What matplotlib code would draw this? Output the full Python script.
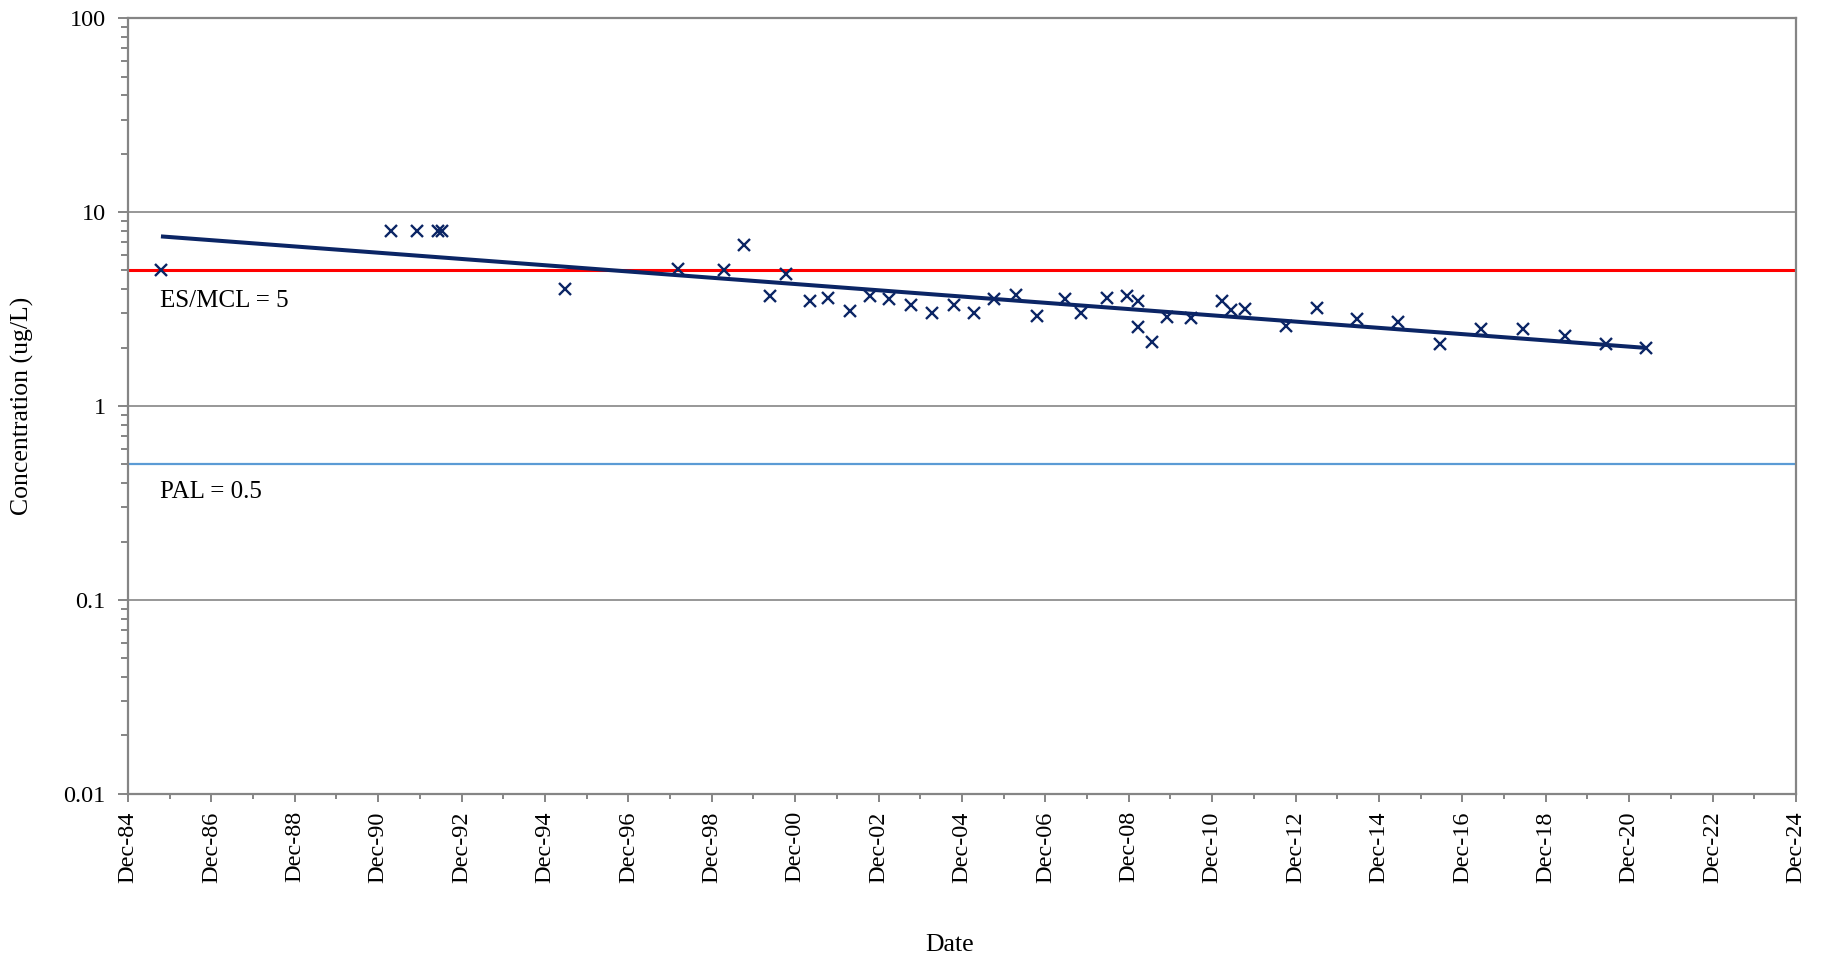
import numpy as np
import pandas as pd
import matplotlib
matplotlib.use("Agg")
import matplotlib.pyplot as plt
import matplotlib.dates as mdates
from matplotlib.ticker import LogLocator, FixedLocator, NullFormatter
import matplotlib.transforms as mtransforms

plt.rcParams['font.family'] = ['Liberation Serif', 'DejaVu Serif']

# ---------------- data ----------------
sample_dates = [
    "1985-09-16", "1991-03-25", "1991-11-06", "1992-05-11", "1992-06-13",
    "1995-05-23", "1998-02-10", "1999-03-17", "1999-09-10", "2000-04-23",
    "2000-09-13", "2001-04-12", "2001-09-17", "2002-03-22", "2002-09-20",
    "2003-03-07", "2003-09-09", "2004-03-14", "2004-09-20", "2005-03-14",
    "2005-09-06", "2006-03-22", "2006-09-20", "2007-05-19", "2007-10-12",
    "2008-05-27", "2008-11-18", "2009-02-21", "2009-02-21", "2009-06-18",
    "2009-11-02", "2010-05-27", "2011-03-01", "2011-05-19", "2011-09-13",
    "2012-09-05", "2013-06-03", "2014-05-19", "2015-05-15", "2016-05-19",
    "2017-05-15", "2018-05-19", "2019-05-15", "2020-05-08", "2021-04-23",
]
concentration = [
    5.0, 8.0, 8.0, 8.0, 8.0,
    4.0, 5.1, 5.0, 6.8, 3.68,
    4.8, 3.5, 3.6, 3.1, 3.68,
    3.55, 3.3, 3.0, 3.3, 3.0,
    3.55, 3.75, 2.92, 3.58, 3.0,
    3.62, 3.68, 3.5, 2.55, 2.14,
    2.88, 2.85, 3.5, 3.14, 3.18,
    2.6, 3.2, 2.8, 2.7, 2.1,
    2.5, 2.5, 2.3, 2.1, 2.0,
]
es_mcl = 5.0
pal = 0.5
es_label = "ES/MCL = 5"
pal_label = "PAL = 0.5"
x_start, x_end = "1984-12-01", "2024-12-01"
y_ticks = [0.01, 0.1, 1, 10, 100]
y_tick_labels = ["0.01", "0.1", "1", "10", "100"]

# ---------------- figure ----------------
dates = pd.to_datetime(sample_dates)
xnum = mdates.date2num(dates)
conc = np.array(concentration)

fig = plt.figure(figsize=(18.28, 9.57), dpi=100)
ax = fig.add_axes([0.0700, 0.1705, 0.9125, 0.8105])

grey = "#858585"
navy = "#0B2565"

ax.set_yscale("log")
ax.set_ylim(0.01, 100)
ax.set_xlim(mdates.date2num(pd.Timestamp(x_start)), mdates.date2num(pd.Timestamp(x_end)))

# grid
ax.yaxis.set_major_locator(FixedLocator(y_ticks))
ax.yaxis.set_minor_locator(LogLocator(base=10, subs=np.arange(2, 10)))
ax.set_yticklabels(y_tick_labels)
ax.yaxis.set_minor_formatter(NullFormatter())
ax.grid(axis="y", which="major", color=grey, lw=1.2, zorder=0)

# limit lines
ax.axhline(es_mcl, color="#FF0000", lw=2.2, zorder=2)
ax.axhline(pal, color="#5B9BD5", lw=1.6, zorder=2)

# exponential trend line (least squares on log of concentration)
b, a = np.polyfit(xnum, np.log(conc), 1)
tx = np.array([xnum.min(), xnum.max()])
ax.plot(tx, np.exp(a + b * tx), color=navy, lw=2.9, zorder=3, solid_capstyle="butt")

# data points
ax.plot(xnum, conc, linestyle="none", marker="x", markersize=9,
        markeredgewidth=1.7, color=navy, zorder=4)

# text labels
trans = mtransforms.blended_transform_factory(ax.transAxes, ax.transData)
ax.text(0.0195, 3.5, es_label, transform=trans, fontsize=18, va="center", ha="left")
ax.text(0.0195, 0.36, pal_label, transform=trans, fontsize=18, va="center", ha="left")

# x ticks
major_ticks = pd.date_range(x_start, x_end, freq="24MS")
minor_ticks = pd.date_range("1985-12-01", "2023-12-01", freq="24MS")
ax.xaxis.set_major_locator(FixedLocator(mdates.date2num(major_ticks)))
ax.xaxis.set_minor_locator(FixedLocator(mdates.date2num(minor_ticks)))
ax.xaxis.set_major_formatter(mdates.DateFormatter("%b-%y"))
for lbl in ax.get_xticklabels():
    lbl.set_rotation(90)

ax.tick_params(axis="x", which="major", direction="out", length=5.5, width=1.4,
               color=grey, labelsize=17.5, pad=7)
ax.tick_params(axis="x", which="minor", direction="out", length=3.6, width=1.4, color=grey)
ax.tick_params(axis="y", which="major", direction="out", length=7, width=1.4,
               color=grey, labelsize=17.5, pad=9)
ax.tick_params(axis="y", which="minor", direction="out", length=4.7, width=1.4, color=grey)

for s in ax.spines.values():
    s.set_color(grey)
    s.set_linewidth(1.6)

ax.set_ylabel("Concentration (ug/L)", fontsize=18.5)
ax.yaxis.set_label_coords(-0.0565, 0.5)
ax.set_xlabel("Date", fontsize=18.5)
ax.xaxis.set_label_coords(0.4925, -0.181)

fig.savefig("out.png", dpi=100)
